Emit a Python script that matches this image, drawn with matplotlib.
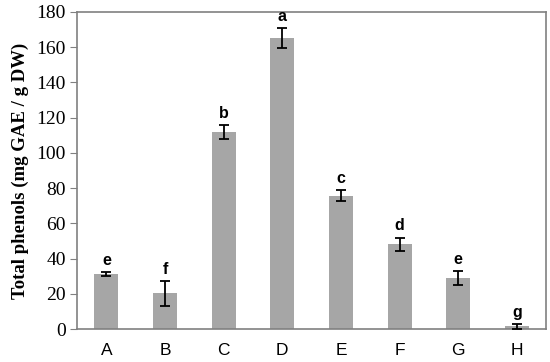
import matplotlib.pyplot as plt
import numpy as np

# data
samples = ['A', 'B', 'C', 'D', 'E', 'F', 'G', 'H']
phenols = [31.2, 20.3, 112.0, 165.0, 75.7, 48.1, 28.8, 1.5]
errors = [1.0, 7.0, 4.0, 5.7, 3.0, 3.8, 3.9, 1.5]
groups = ['e', 'f', 'b', 'a', 'c', 'd', 'e', 'g']

fig = plt.figure(figsize=(5.5, 3.62), dpi=100)
ax = fig.add_axes([0.14, 0.091, 0.853, 0.876])

x = np.arange(len(samples))
ax.bar(x, phenols, width=0.41, color='#a6a6a6', zorder=2)
ax.errorbar(x, phenols, yerr=errors, fmt='none', ecolor='black',
            elinewidth=1.3, capsize=3.5, capthick=1.3, zorder=3)

for i in range(len(samples)):
    ax.annotate(groups[i], (x[i], phenols[i] + errors[i]), xytext=(0, 3),
                textcoords='offset points', ha='center', va='bottom',
                fontsize=11.5, fontweight='bold', family='Liberation Sans')

ax.set_xlim(-0.5, len(samples) - 0.5)
ax.set_ylim(0, 180)
ax.set_yticks(range(0, 181, 20))
ax.set_xticks(x)
ax.set_xticklabels(samples, family='Liberation Sans', fontsize=12.5)
for t in ax.get_yticklabels():
    t.set_family('Liberation Serif')
    t.set_fontsize(14)
ax.tick_params(axis='x', length=0, pad=10)
ax.tick_params(axis='y', length=5, color='#808080', direction='out', pad=3)
for s in ax.spines.values():
    s.set_color('#808080')
    s.set_linewidth(1.2)

ax.set_ylabel('Total phenols (mg GAE / g DW)', family='Liberation Serif',
              fontweight='bold', fontsize=13.5, labelpad=5)

fig.savefig('out.png', dpi=100)
